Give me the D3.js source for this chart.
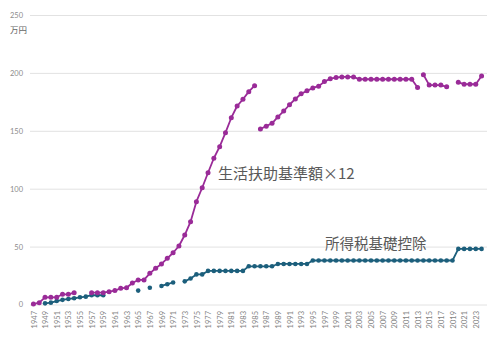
<!DOCTYPE html>
<html>
<head>
<meta charset="utf-8">
<script src="https://cdn.jsdelivr.net/npm/d3@7"></script>
<style>
  html, body { margin: 0; padding: 0; background: #fff; }
  svg { display: block; }
  text { font-family: "Noto Sans CJK JP", "Noto Sans", sans-serif; }
</style>
</head>
<body>
<svg id="chart" width="500" height="344"></svg>
<script>
// Years on the category axis (1947–2024)
const years = d3.range(1947, 2025);

// 生活扶助基準額×12 (万円); null = no figure for that year
const allowance = [
  0.4, 1.6, 6.2, 6.2, 6.2, 8.8, 8.8, 10.2, null, null,          // 1947-1956
  10.2, 10.2, 10.2, 11.1, 12.0, 14.0, 14.5, 18.5, 21.2, 21.2,   // 1957-1966
  26.9, 31.3, 35.0, 39.9, 44.7, 50.5, 60.0, 71.5, 88.8, 100.8,  // 1967-1976
  113.8, 126.3, 136.3, 148.4, 161.3, 171.4, 177.2, 183.8, 189.0, // 1977-1985
  151.6, 154.0, 156.5, 162.0, 167.0, 172.5, 177.5, 182.0, 184.5, // 1986-1994
  187.0, 188.5, 192.5, 195.0, 196.0, 196.5, 196.5, 196.5,       // 1995-2002
  194.5, 194.5, 194.5, 194.5, 194.5, 194.5, 194.5, 194.5, 194.5, 194.5, // 2003-2012
  187.3,                                                          // 2013
  198.5, 189.5, 189.5, 189.5, 188.0, null,                        // 2014-2019
  191.9, 190.3, 190.2, 190.2, 197.4                               // 2020-2024
];
// Years where the allowance line starts a new run (revised basis)
const allowanceBreaks = [1986, 2014];

// 所得税基礎控除 (万円)
const deduction = [
  null, null, 1.0, 1.6, 3.0, 4.0, 4.8, 5.4, 6.2, 6.8,           // 1947-1956
  8.0, 8.0, 8.0, null, null, null, null, null, 12.0, null,      // 1957-1966
  14.5, null, 16.0, 17.5, 19.0, null, 20.0, 22.5, 26.0, 26.0,   // 1967-1976
  29, 29, 29, 29, 29, 29, 29,                                     // 1977-1983
  33, 33, 33, 33, 33,                                             // 1984-1988
  35, 35, 35, 35, 35, 35,                                         // 1989-1994
  38, 38, 38, 38, 38, 38, 38, 38, 38, 38, 38, 38, 38,             // 1995-2007
  38, 38, 38, 38, 38, 38, 38, 38, 38, 38, 38, 38,                 // 2008-2019
  48, 48, 48, 48, 48                                              // 2020-2024
];

const yTicks = [0, 50, 100, 150, 200, 250];
const xTickYears = years.filter(y => y % 2 === 1);

const colAllowance = "#9a2b98";
const colDeduction = "#1c5f7c";

const svg = d3.select("#chart");
const plotLeft = 30, plotRight = 487;

const x = d3.scalePoint().domain(years).range([30.5, 484.5]).padding(0.5);
const y = d3.scaleLinear().domain([0, 250]).range([304.5, 15]);

// horizontal gridlines + value labels
const yAxis = svg.append("g")
  .attr("transform", `translate(${plotLeft},0)`)
  .call(d3.axisLeft(y).tickValues(yTicks).tickSize(-(plotRight - plotLeft)).tickPadding(7));
yAxis.select(".domain").remove();
yAxis.selectAll(".tick line").attr("stroke", "#e2e2e2").attr("stroke-width", 1);
yAxis.selectAll(".tick text")
  .attr("fill", "#8c8c8c")
  .style("font-size", "7.5px")
  .style("font-family", "Lato, 'Noto Sans', sans-serif");

// unit label
svg.append("text")
  .attr("x", 10).attr("y", 33)
  .attr("fill", "#666")
  .style("font-size", "8.5px")
  .text("万円");

// year labels, rotated
const xAxis = svg.append("g")
  .attr("transform", "translate(0,309)")
  .call(d3.axisBottom(x).tickValues(xTickYears).tickSize(0).tickPadding(0));
xAxis.select(".domain").remove();
xAxis.selectAll(".tick text")
  .attr("transform", "rotate(-90)")
  .attr("text-anchor", "end")
  .attr("x", -2)
  .attr("y", 0)
  .attr("dy", "0.35em")
  .attr("fill", "#7f7f7f")
  .style("font-size", "7.5px")
  .style("font-family", "Lato, 'Noto Sans', sans-serif");

// split a series into runs of consecutive defined values, honouring breaks
function runs(values, breaks) {
  const out = [];
  let cur = [];
  values.forEach((v, i) => {
    const yr = years[i];
    if (v == null || breaks.includes(yr)) {
      if (cur.length) out.push(cur);
      cur = [];
    }
    if (v != null) cur.push({ year: yr, value: v });
  });
  if (cur.length) out.push(cur);
  return out;
}

const line = d3.line().x(d => x(d.year)).y(d => y(d.value));

function drawSeries(values, breaks, color, width, r) {
  const g = svg.append("g");
  const segs = runs(values, breaks);
  g.selectAll("path").data(segs).join("path")
    .attr("d", line)
    .attr("fill", "none")
    .attr("stroke", color)
    .attr("stroke-width", width)
    .attr("stroke-linejoin", "round");
  g.selectAll("circle").data(segs.flat()).join("circle")
    .attr("cx", d => x(d.year))
    .attr("cy", d => y(d.value))
    .attr("r", r)
    .attr("fill", color);
}

drawSeries(deduction, [], colDeduction, 1.8, 2.3);
drawSeries(allowance, allowanceBreaks, colAllowance, 1.8, 2.5);

// series labels
svg.append("text")
  .attr("x", 218).attr("y", 179)
  .attr("fill", "#595959")
  .style("font-size", "15px")
  .text("生活扶助基準額×12");

svg.append("text")
  .attr("x", 325).attr("y", 249)
  .attr("fill", "#595959")
  .style("font-size", "14.5px")
  .text("所得税基礎控除");
</script>
</body>
</html>
